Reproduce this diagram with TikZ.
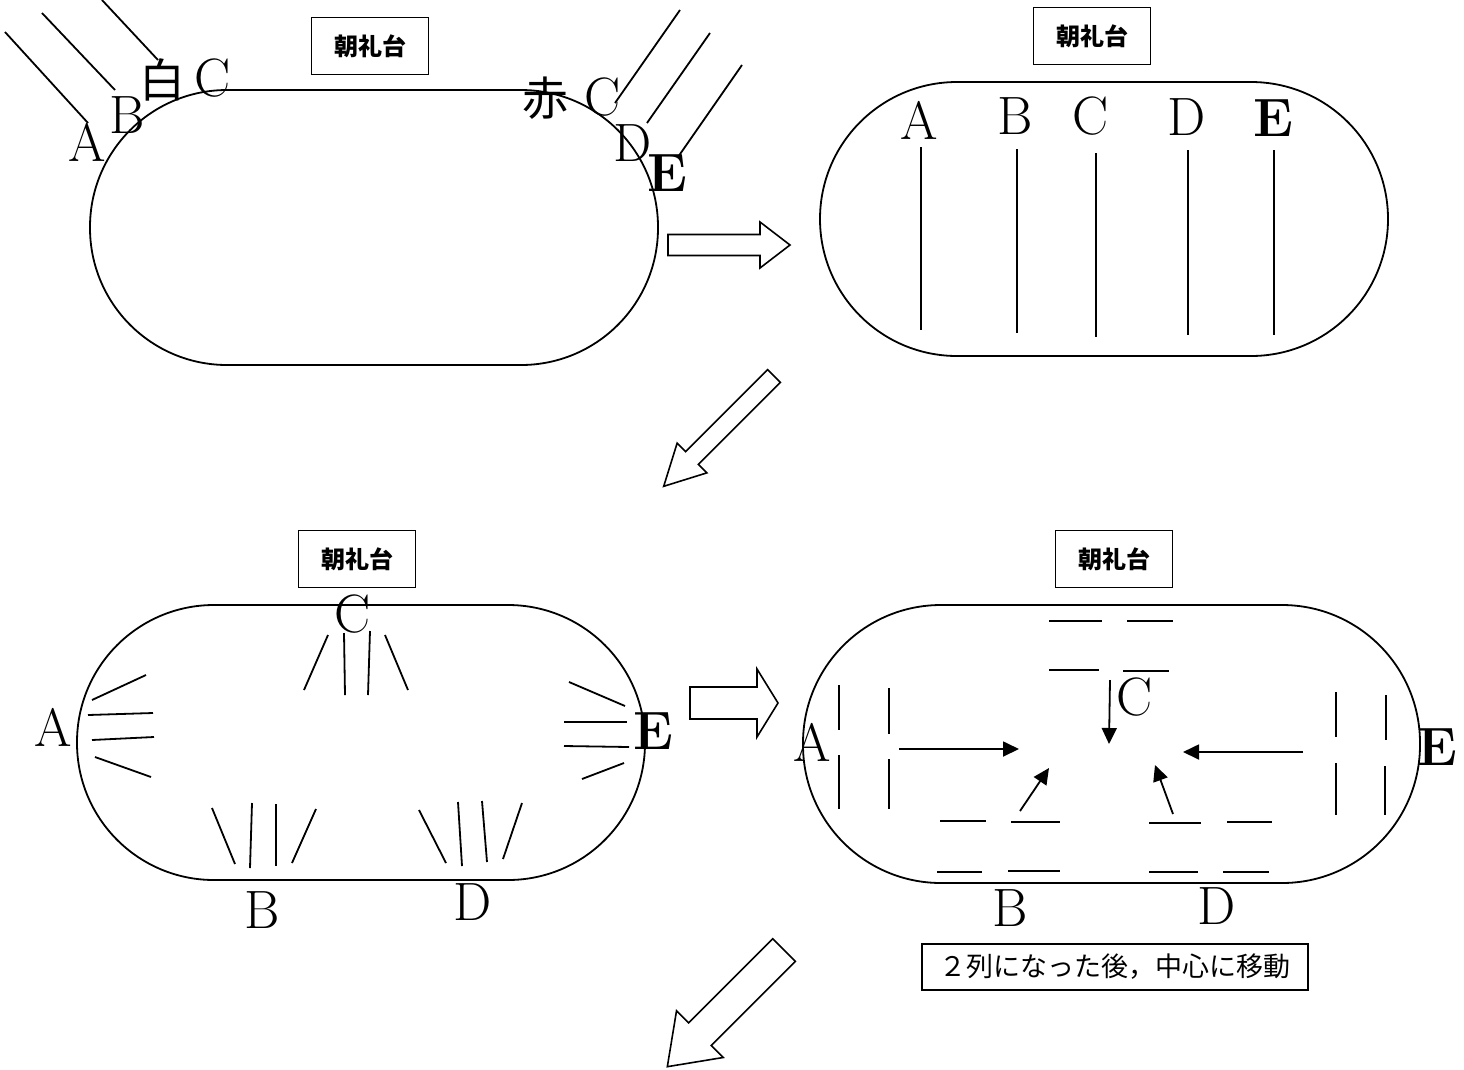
\documentclass[tikz,border=0pt]{standalone}
\usepackage{fontspec}
\newfontfamily\jpfont{Noto Sans CJK JP}
\usetikzlibrary{arrows.meta}

\begin{document}
\begin{tikzpicture}[x=1pt,y=-1pt,line width=1.8pt,
  ltr/.style={inner sep=0pt,font=\fontsize{54}{54}\selectfont},
  kanji/.style={inner sep=0pt,font=\jpfont\fontsize{46}{46}\selectfont},
  stand/.style={draw,line width=1.6pt,minimum width=117pt,minimum height=57pt,inner sep=0pt,font=\jpfont\bfseries\fontsize{24}{24}\selectfont},
  track/.style={rounded corners=137pt},
  go/.style={-{Triangle[length=16pt,width=15pt]}},
  hollow/.style={line width=1.6pt,line join=miter}]
\useasboundingbox (0,0) rectangle (1464,1069);

% entrance
\draw[track] (90,90) rectangle (658,365);
\node[stand] (stand1) at (370,46) {朝礼台};
\draw (5,32) -- (88,123);
\draw (42,13) -- (115,90);
\draw (102,0) -- (158,60);
\draw (680,10) -- (615,103);
\draw (710,33) -- (647,123);
\draw (742,65) -- (678,157);
\node[ltr] (a1) at (87,142) {A};
\node[ltr] (b1) at (127,115) {B};
\node[kanji] (shiro) at (162,80) {白};
\node[ltr] (c1w) at (213,78) {C};
\node[kanji] (aka) at (545,98) {赤};
\node[ltr] (c1r) at (603,97) {C};
\node[ltr] (d1) at (633,143) {D};
\node[ltr] (e1) at (667,173) {\textbf{E}};

\draw[hollow] (668,234.5) -- (760,234.5) -- (760,222) -- (790,245) -- (760,268) -- (760,255.5) -- (668,255.5) -- cycle;

% five rows
\draw[track] (820,82) rectangle (1388,356);
\node[stand] (stand2) at (1092,36) {朝礼台};
\node[ltr] (a2) at (919,120) {A};
\node[ltr] (b2) at (1015,116) {B};
\node[ltr] (c2) at (1091,116) {C};
\node[ltr] (d2) at (1187,117) {D};
\node[ltr] (e2) at (1273,118) {\textbf{E}};
\draw (921,147) -- (921,330);
\draw (1017,149) -- (1017,333);
\draw (1096,153) -- (1096,337);
\draw (1188,150) -- (1188,335);
\draw (1274,150) -- (1274,335);

\begin{scope}[shift={(774,376)},rotate=225]
\draw[hollow] (0,-9) -- (116,-9) -- (116,-21) -- (156,0) -- (116,21) -- (116,9) -- (0,9) -- cycle;
\end{scope}

% fan out
\draw[track] (77,605) rectangle (645,880);
\node[stand] (stand3) at (357,559) {朝礼台};
\node[ltr] (c3) at (353,614) {C};
\node[ltr] (a3) at (53,727) {A};
\node[ltr] (e3) at (653,731) {\textbf{E}};
\node[ltr] (b3) at (262,910) {B};
\node[ltr] (d3) at (473,902) {D};
\draw (328,635) -- (304,690);
\draw (344,633) -- (345,695);
\draw (370,631) -- (368,695);
\draw (385,635) -- (408,690);
\draw (92,700) -- (146,675);
\draw (88,715) -- (153,713);
\draw (92,740) -- (154,737);
\draw (95,757) -- (151,777);
\draw (569,682) -- (625,706);
\draw (564,722) -- (627,722);
\draw (564,746) -- (629,747);
\draw (624,763) -- (582,779);
\draw (212,808) -- (235,864);
\draw (252,803) -- (250,868);
\draw (276,804) -- (276,866);
\draw (316,809) -- (292,863);
\draw (419,810) -- (446,863);
\draw (458,802) -- (462,866);
\draw (482,801) -- (487,862);
\draw (522,803) -- (503,859);

\draw[hollow] (690,687) -- (757,687) -- (757,669) -- (778,703) -- (757,737) -- (757,719) -- (690,719) -- cycle;

% two rows, then to the centre
\draw[track,rounded corners=138pt] (803,605) rectangle (1420,883);
\node[stand] (stand4) at (1114,559) {朝礼台};
\node[ltr] (a4) at (812,742) {A};
\node[ltr] (c4) at (1135,697) {C};
\node[ltr] (e4) at (1437,747) {\textbf{E}};
\node[ltr] (b4) at (1010,908) {B};
\node[ltr] (d4) at (1217,906) {D};
\draw (1049,621) -- (1102,621);
\draw (1127,621) -- (1173,621);
\draw (1049,670) -- (1099,670);
\draw (1123,671) -- (1169,671);
\draw (839,685) -- (839,730);
\draw (889,688) -- (889,734);
\draw (839,755) -- (839,809);
\draw (889,759) -- (889,809);
\draw (1336,692) -- (1336,737);
\draw (1386,695) -- (1386,740);
\draw (1336,763) -- (1336,815);
\draw (1385,766) -- (1385,815);
\draw (940,821) -- (986,821);
\draw (1011,822) -- (1060,822);
\draw (937,872) -- (982,872);
\draw (1008,871) -- (1060,871);
\draw (1149,823) -- (1201,823);
\draw (1227,822) -- (1272,822);
\draw (1149,872) -- (1198,872);
\draw (1223,872) -- (1269,872);
\draw[go] (899,749) -- (1019,749);
\draw[go] (1303,752) -- (1183,752);
\draw[go] (1110,680) -- (1109,744);
\draw[go] (1020,811) -- (1049,768);
\draw[go] (1173,814) -- (1155,765);
\node[draw,line width=1.4pt,minimum width=386pt,minimum height=46pt,inner sep=0pt,
  font=\jpfont\fontsize{27}{27}\selectfont] (note) at (1115,967) {２列になった後，中心に移動};

\begin{scope}[shift={(784,950)},rotate=225]
\draw[hollow] (0,-16) -- (119,-16) -- (119,-33) -- (165,0) -- (119,33) -- (119,16) -- (0,16) -- cycle;
\end{scope}
\end{tikzpicture}
\end{document}
